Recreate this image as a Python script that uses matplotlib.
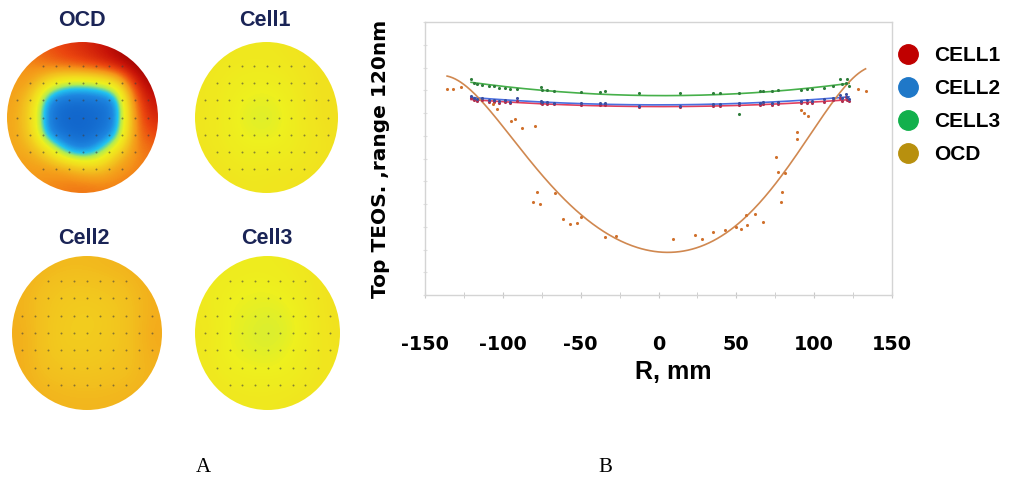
import numpy as np
import matplotlib
matplotlib.use("Agg")
import matplotlib.pyplot as plt
from matplotlib.colors import LinearSegmentedColormap
from matplotlib.patches import Ellipse
from matplotlib.lines import Line2D

# ---------------- data ----------------
# wafer map values (normalised colour scale, rows top->bottom)
ocd_map = [
    [0.72, 0.76, 0.80, 0.84, 0.87, 0.91, 0.96, 1.00, 1.00],
    [0.70, 0.72, 0.74, 0.77, 0.80, 0.84, 0.90, 0.97, 1.00],
    [0.68, 0.66, 0.45, 0.30, 0.28, 0.32, 0.45, 0.85, 0.97],
    [0.67, 0.55, 0.10, 0.02, 0.02, 0.04, 0.10, 0.74, 0.92],
    [0.66, 0.52, 0.06, 0.00, 0.00, 0.02, 0.08, 0.70, 0.88],
    [0.66, 0.55, 0.10, 0.02, 0.00, 0.04, 0.15, 0.70, 0.82],
    [0.66, 0.64, 0.50, 0.20, 0.10, 0.22, 0.50, 0.70, 0.76],
    [0.68, 0.68, 0.68, 0.66, 0.58, 0.56, 0.68, 0.72, 0.74],
    [0.70, 0.70, 0.72, 0.74, 0.75, 0.74, 0.73, 0.74, 0.75],
]
cell1_map = [
    [0.46, 0.45, 0.44, 0.44, 0.45, 0.47, 0.48],
    [0.45, 0.43, 0.42, 0.42, 0.43, 0.46, 0.48],
    [0.45, 0.42, 0.40, 0.39, 0.41, 0.45, 0.48],
    [0.45, 0.42, 0.38, 0.37, 0.40, 0.45, 0.48],
    [0.45, 0.42, 0.40, 0.39, 0.41, 0.44, 0.47],
    [0.46, 0.44, 0.42, 0.43, 0.43, 0.45, 0.47],
    [0.47, 0.46, 0.45, 0.45, 0.46, 0.47, 0.48],
]
cell2_map = [
    [0.64, 0.62, 0.61, 0.61, 0.62, 0.63, 0.65],
    [0.63, 0.59, 0.57, 0.57, 0.58, 0.60, 0.64],
    [0.63, 0.58, 0.56, 0.55, 0.56, 0.59, 0.64],
    [0.64, 0.58, 0.55, 0.55, 0.56, 0.59, 0.65],
    [0.64, 0.58, 0.56, 0.56, 0.57, 0.59, 0.64],
    [0.64, 0.60, 0.59, 0.58, 0.59, 0.60, 0.63],
    [0.64, 0.63, 0.62, 0.62, 0.62, 0.63, 0.64],
]
cell3_map = [
    [0.44, 0.43, 0.42, 0.42, 0.43, 0.45, 0.47],
    [0.43, 0.41, 0.40, 0.40, 0.41, 0.44, 0.47],
    [0.44, 0.40, 0.39, 0.38, 0.39, 0.43, 0.47],
    [0.45, 0.40, 0.38, 0.36, 0.38, 0.42, 0.47],
    [0.44, 0.40, 0.39, 0.38, 0.40, 0.43, 0.46],
    [0.45, 0.42, 0.41, 0.41, 0.41, 0.44, 0.46],
    [0.46, 0.45, 0.44, 0.44, 0.45, 0.46, 0.47],
]
map_titles = ["OCD", "Cell1", "Cell2", "Cell3"]

# radial profile data
cell_x = [-120.4, -118.7, -116.5, -113.3, -109.0, -105.8, -102.6, -98.3, -95.1, -90.8,
          -75.8, -74.8, -71.5, -67.3, -50.1, -37.3, -34.5, -12.7, 13.5, 35.1,
          39.4, 51.6, 65.1, 67.1, 73.1, 76.7, 91.3, 95.6, 98.8, 106.3,
          112.3, 116.6, 118.1, 120.3, 121.3, 122.4]
cell1_y = [86.8, 85.8, 85.2, 85.6, 84.9, 85.0, 84.6, 84.9, 84.2, 85.4,
           84.5, 84.0, 84.1, 83.8, 83.6, 83.5, 83.4, 82.6, 82.5, 83.2,
           83.1, 83.4, 83.7, 83.8, 83.6, 83.9, 84.2, 84.5, 84.3, 84.9,
           85.6, 86.5, 85.1, 86.9, 85.8, 85.2]
cell2_y = [87.5, 86.6, 86.0, 86.8, 85.6, 85.9, 85.4, 85.8, 85.0, 86.6,
           85.3, 84.8, 84.9, 84.6, 84.4, 84.2, 84.3, 83.2, 83.1, 84.0,
           83.9, 84.3, 84.6, 84.7, 84.6, 84.8, 85.2, 85.6, 85.4, 86.0,
           86.8, 87.8, 86.4, 88.4, 87.0, 86.2]
cell3_x = cell_x + [51.6]
cell3_y = [94.9, 93.1, 92.6, 92.3, 92.0, 92.0, 91.1, 90.8, 90.5, 90.5,
           91.6, 90.1, 90.1, 89.7, 89.4, 89.4, 89.6, 88.6, 88.6, 89.0,
           89.0, 89.0, 89.6, 89.6, 89.8, 90.0, 90.1, 90.5, 90.5, 91.1,
           92.0, 94.9, 92.6, 93.1, 94.9, 92.0] + [79.6]
ocd_x = [-135.6, -132.0, -127.0, -106.0, -103.7, -95.0, -92.3, -88.0, -79.5,
         -80.8, -78.0, -76.3, -66.6, -61.5, -56.6, -52.3, -49.5, -34.5, -27.2,
         9.4, 23.3, 28.1, 34.9, 42.4, 49.5, 52.7, 56.4, 57.0, 61.9, 67.0,
         75.2, 76.7, 81.2, 79.5, 78.4, 88.7, 88.7, 91.3, 93.4, 96.0, 128.0, 133.0]
ocd_y = [90.5, 90.5, 91.4, 84.0, 81.6, 76.6, 77.2, 73.3, 74.3,
         40.9, 45.4, 39.9, 44.7, 33.4, 31.1, 31.5, 34.2, 25.4, 25.9,
         24.5, 26.5, 24.7, 27.7, 28.6, 29.9, 29.2, 35.2, 30.9, 35.7, 32.0,
         60.5, 53.9, 53.8, 45.4, 41.0, 71.8, 68.4, 81.3, 79.9, 78.7, 90.5, 89.7]
# OCD trend line
ocd_trend_x = [-135.8, -104.0, -82.3, -63.0, -45.8, -34.5, -15.9, 1.3, 18.4, 39.8,
               57.0, 74.1, 83.7, 110.0, 133.0]
ocd_trend_y = [96.3, 77.0, 59.3, 44.7, 33.0, 25.9, 21.0, 20.1, 21.0, 24.9,
               33.0, 47.6, 59.3, 82.0, 99.6]

series_names = ["CELL1", "CELL2", "CELL3", "OCD"]
legend_colors = ["#C00000", "#1F78C8", "#12B04C", "#B8900E"]
line_colors = ["#E2405E", "#4A6FE0", "#46B04A", "#D08850"]
dot_colors = ["#B03050", "#3A4FA0", "#2E7D3A", "#D0702C"]

x_ticks = [-150, -100, -50, 0, 50, 100, 150]

# ---------------- figure ----------------
W, H = 1010, 482
fig = plt.figure(figsize=(W / 100, H / 100), dpi=100)
fig.patch.set_facecolor("white")

def fbox(x0, y0, x1, y1):
    return [x0 / W, 1 - y1 / H, (x1 - x0) / W, (y1 - y0) / H]

cmap = LinearSegmentedColormap.from_list("wafer", [
    (0.00, "#1266CC"), (0.12, "#1E86E0"), (0.22, "#22C4F0"), (0.31, "#B4EC50"),
    (0.40, "#EEF01E"), (0.50, "#F2DC1E"), (0.60, "#F2BE1E"), (0.70, "#F59619"),
    (0.82, "#EB460F"), (0.92, "#C81408"), (1.00, "#960000")])

wafer_boxes = [(7, 42, 158, 193), (195, 42, 338, 193), (12, 256, 162, 410), (195, 256, 340, 410)]
title_pos = [(82, 20), (265, 20), (84, 238), (267, 238)]
maps = [ocd_map, cell1_map, cell2_map, cell3_map]

# measurement-site grid
gx = np.arange(-5, 6) * 0.173
gy = np.arange(-3, 4) * 0.227
GX, GY = np.meshgrid(gx, gy)
inside = GX ** 2 + GY ** 2 < 0.85
sx, sy = GX[inside], GY[inside]

for m, box, title, tp in zip(maps, wafer_boxes, map_titles, title_pos):
    wa = fig.add_axes(fbox(*box))
    wa.set_xlim(-1, 1)
    wa.set_ylim(-1, 1)
    wa.axis("off")
    im = wa.imshow(np.array(m), cmap=cmap, vmin=0, vmax=1, extent=[-1, 1, -1, 1],
                   interpolation="bicubic", aspect="auto")
    clip = Ellipse((0, 0), 2, 2, transform=wa.transData)
    im.set_clip_path(clip)
    wa.scatter(sx, sy, s=2.0, color="#404040", alpha=0.6, linewidths=0)
    fig.text(tp[0] / W, 1 - tp[1] / H, title, ha="center", va="center",
             fontsize=15.5, fontweight="bold", color="#1A2456", family="Liberation Sans")

# ---------------- profile chart ----------------
ax = fig.add_axes(fbox(425, 22, 892, 295))
ax.set_xlim(-150, 150)
ax.set_ylim(0, 120)

# cell trend lines: quadratic least-squares fit of the measured points
for xs, ys, lc, dc in zip([cell_x, cell_x, cell3_x], [cell1_y, cell2_y, cell3_y],
                          line_colors[:3], dot_colors[:3]):
    xs = np.array(xs)
    ys = np.array(ys)
    coef = np.polyfit(xs, ys, 2)
    xf = np.linspace(xs.min(), xs.max(), 300)
    ax.plot(xf, np.polyval(coef, xf), color=lc, lw=1.2, zorder=2)
    ax.scatter(xs, ys, s=5, color=dc, zorder=3, linewidths=0)

# OCD trend line: smooth polynomial through the read trend values
tx = np.array(ocd_trend_x)
coef = np.polyfit(tx, np.array(ocd_trend_y), 6)
xf = np.linspace(tx.min(), tx.max(), 300)
ax.plot(xf, np.polyval(coef, xf), color=line_colors[3], lw=1.2, zorder=2)
ax.scatter(ocd_x, ocd_y, s=5, color=dot_colors[3], zorder=3, linewidths=0)

for sp in ax.spines.values():
    sp.set_color("#D4D4D4")
    sp.set_linewidth(1.0)

ax.set_xticks(x_ticks)
ax.set_xticks(np.arange(-150, 151, 25), minor=True)
ax.set_xticklabels([str(t) for t in x_ticks], fontsize=13.8, fontweight="bold",
                   family="DejaVu Sans")
ax.tick_params(axis="x", which="both", direction="inout", length=4, color="#C8C8C8", pad=27)
ax.set_yticks(np.arange(0, 121, 10))
ax.set_yticklabels([])
ax.tick_params(axis="y", which="both", direction="inout", length=3, color="#E0E0E0")

ax.set_xlabel("R, mm", fontsize=18, fontweight="bold", family="Liberation Sans", va="center")
ax.xaxis.set_label_coords((673 - 425) / 467, (295 - 372) / 273)
ax.set_ylabel("Top TEOS. ,range 120nm", fontsize=14.5, fontweight="bold",
              family="DejaVu Sans", va="center")
ax.yaxis.set_label_coords((381 - 425) / 467, 0.5)

handles = [Line2D([], [], marker="o", ls="none", markersize=14, markerfacecolor=c,
                  markeredgecolor=c) for c in legend_colors]
leg = fig.legend(handles, series_names, loc="upper left",
                 bbox_to_anchor=(897.6 / W, 1 - 46 / H), frameon=False,
                 prop={"family": "Liberation Sans", "weight": "bold", "size": 15},
                 handlelength=1.0, handletextpad=0.75, labelspacing=0.68, borderpad=0,
                 borderaxespad=0)

fig.text(203 / W, 1 - 467 / H, "A", ha="center", va="center", fontsize=15,
         family="Liberation Serif")
fig.text(605 / W, 1 - 467 / H, "B", ha="center", va="center", fontsize=15,
         family="Liberation Serif")

fig.savefig("out.png", dpi=100, facecolor="white")
